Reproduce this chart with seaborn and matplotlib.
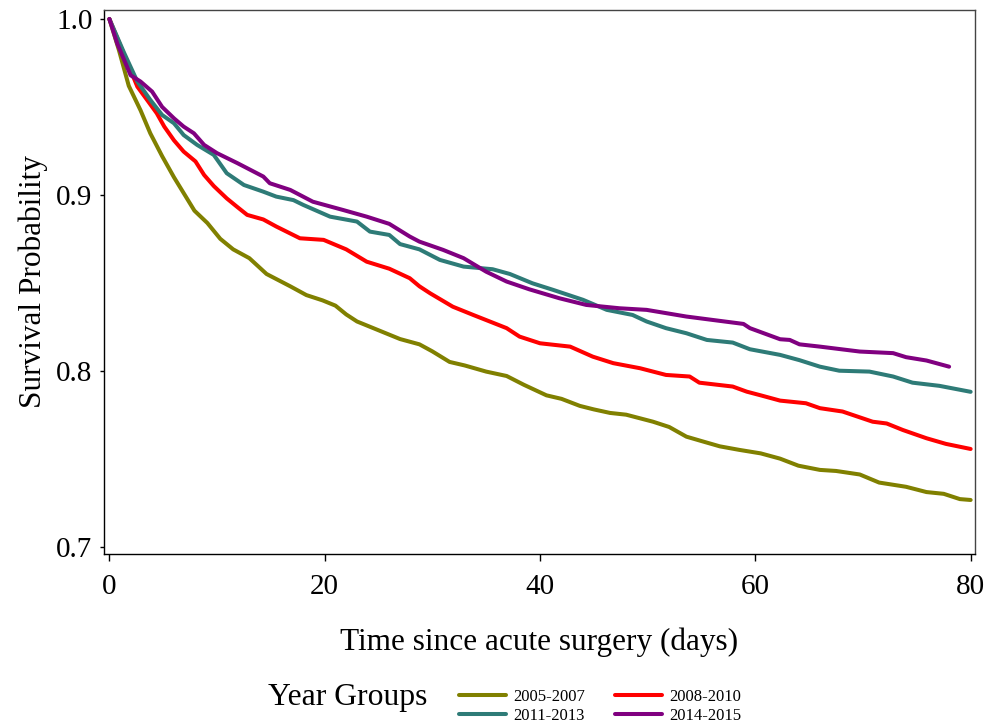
import matplotlib
matplotlib.use("Agg")
import matplotlib.pyplot as plt
import pandas as pd
import seaborn as sns
from matplotlib.lines import Line2D

# ---- data (Kaplan-Meier style survival curves) ----
GROUPS = ["2005-2007", "2008-2010", "2011-2013", "2014-2015"]
COLORS = {"2005-2007": "#808000", "2008-2010": "#ff0000",
          "2011-2013": "#2e7b77", "2014-2015": "#800080"}

days_0507 = [0, 0.9, 1.8, 2.9, 3.8, 4.9, 6.0, 6.9, 7.9, 9.1, 10.3, 11.5, 13.0, 14.6,
             16.8, 18.3, 19.8, 21.0, 22.0, 23.0, 25.0, 27.0, 28.8, 30.0, 31.6, 33.0,
             35.0, 36.9, 38.5, 40.6, 42.0, 43.7, 45.0, 46.5, 48.0, 50.5, 52.0, 53.6,
             55.0, 56.7, 58.5, 60.5, 62.3, 64.0, 66.0, 67.5, 69.7, 71.5, 74.0, 75.9,
             77.5, 79.0, 80.0]
surv_0507 = [1.000, 0.982, 0.962, 0.948, 0.935, 0.922, 0.910, 0.901, 0.891, 0.884,
             0.875, 0.869, 0.864, 0.855, 0.848, 0.843, 0.840, 0.837, 0.832, 0.828,
             0.823, 0.818, 0.815, 0.811, 0.805, 0.803, 0.7995, 0.797, 0.792, 0.786,
             0.784, 0.780, 0.778, 0.776, 0.775, 0.771, 0.768, 0.7625, 0.760, 0.757,
             0.755, 0.753, 0.750, 0.746, 0.7436, 0.743, 0.741, 0.7364, 0.734, 0.731,
             0.730, 0.727, 0.7265]

days_0810 = [0, 1.35, 2.6, 3.5, 4.4, 5.1, 6.0, 6.9, 8.0, 8.8, 9.7, 10.9, 11.9, 12.8,
             14.3, 15.5, 17.7, 19.9, 22.0, 23.9, 26.0, 27.9, 28.8, 29.8, 31.9, 33.8,
             36.9, 38.1, 40.0, 42.8, 44.9, 46.8, 49.3, 51.7, 53.9, 54.8, 57.9, 59.2,
             60.5, 62.3, 64.7, 66.0, 68.1, 70.9, 72.2, 73.7, 75.9, 77.7, 80.0]
surv_0810 = [1.000, 0.980, 0.9615, 0.954, 0.9464, 0.9388, 0.931, 0.9246, 0.919,
             0.9113, 0.905, 0.898, 0.893, 0.8886, 0.886, 0.882, 0.8753, 0.8744,
             0.869, 0.862, 0.858, 0.8526, 0.848, 0.844, 0.8364, 0.8317, 0.8242,
             0.8194, 0.8156, 0.8137, 0.808, 0.8043, 0.8014, 0.7976, 0.7967, 0.7932,
             0.791, 0.7881, 0.786, 0.783, 0.7815, 0.7787, 0.7768, 0.771, 0.770,
             0.7663, 0.7616, 0.7584, 0.7555]

days_1113 = [0, 1.35, 2.6, 3.8, 4.9, 6.0, 6.9, 8.15, 9.7, 10.9, 12.5, 14.3, 15.5,
             17.1, 18.0, 20.5, 23.0, 24.2, 26.0, 27.0, 28.8, 30.7, 32.9, 35.6, 37.2,
             39.3, 41.2, 44.0, 46.2, 48.6, 49.9, 51.7, 53.6, 55.5, 57.9, 59.5, 62.3,
             64.1, 66.0, 67.8, 70.6, 72.8, 74.6, 77.1, 80.0]
surv_1113 = [1.000, 0.981, 0.9644, 0.954, 0.9454, 0.9407, 0.934, 0.9284, 0.9227,
             0.9123, 0.9056, 0.9018, 0.899, 0.897, 0.8943, 0.8876, 0.8848, 0.8791,
             0.8772, 0.872, 0.869, 0.863, 0.8592, 0.8577, 0.855, 0.8497, 0.846,
             0.8403, 0.8346, 0.8317, 0.828, 0.8242, 0.8213, 0.8175, 0.816, 0.8122,
             0.809, 0.806, 0.8023, 0.800, 0.7995, 0.7967, 0.7932, 0.7914, 0.788]

days_1415 = [0, 0.73, 1.97, 2.9, 3.97, 4.9, 6.0, 6.9, 7.85, 8.8, 10.0, 11.9, 13.1,
             14.3, 14.9, 16.8, 18.9, 21.7, 23.9, 26.0, 27.9, 28.8, 31.0, 32.9, 35.0,
             36.9, 39.0, 41.8, 44.3, 47.4, 49.9, 53.6, 58.9, 59.5, 62.3, 63.2, 64.1,
             66.0, 69.7, 72.8, 74.0, 75.9, 78.0]
surv_1415 = [1.000, 0.986, 0.968, 0.9644, 0.9587, 0.950, 0.9435, 0.9388, 0.935,
             0.9284, 0.9237, 0.918, 0.9142, 0.9104, 0.9066, 0.9028, 0.8961, 0.8914,
             0.8876, 0.8835, 0.8763, 0.8734, 0.8687, 0.864, 0.8563, 0.8507, 0.8463,
             0.8412, 0.8374, 0.8355, 0.8346, 0.8308, 0.8266, 0.8242, 0.8179, 0.8175,
             0.815, 0.8137, 0.8109, 0.810, 0.8077, 0.8058, 0.8023]

series = {"2005-2007": (days_0507, surv_0507), "2008-2010": (days_0810, surv_0810),
          "2011-2013": (days_1113, surv_1113), "2014-2015": (days_1415, surv_1415)}
df = pd.concat([pd.DataFrame({"day": d, "surv": s, "group": g})
                for g, (d, s) in series.items()], ignore_index=True)

sns.set_style("ticks")
plt.rcParams["font.family"] = ["Liberation Serif", "DejaVu Serif"]
plt.rcParams.update({"text.color": "black", "axes.labelcolor": "black",
                     "xtick.color": "black", "ytick.color": "black"})

fig = plt.figure(figsize=(9.98, 7.25), dpi=100)
ax = fig.add_axes([0.1042, 0.2359, 0.8727, 0.7503])

sns.lineplot(data=df, x="day", y="surv", hue="group", hue_order=GROUPS,
             palette=COLORS, estimator=None, sort=False, lw=2.9,
             solid_joinstyle="round", legend=False, ax=ax)

ax.set_xlim(-0.5, 80.4)
ax.set_ylim(0.6958, 1.0051)
ax.set_xticks([0, 20, 40, 60, 80])
ax.set_yticks([0.7, 0.8, 0.9, 1.0])
ax.set_yticklabels(["0.7", "0.8", "0.9", "1.0"])
ax.tick_params(axis="x", labelsize=21, length=5, width=1, pad=9.5)
ax.tick_params(axis="y", labelsize=21, length=3.2, width=1, pad=5)
ax.set_xlabel("Time since acute surgery (days)", fontsize=22.5, labelpad=20)
ax.set_ylabel("Survival Probability", fontsize=22.5, labelpad=6)

for side in ["left", "bottom"]:
    ax.spines[side].set_color("black")
    ax.spines[side].set_linewidth(1.0)
for side in ["top", "right"]:
    ax.spines[side].set_visible(True)
    ax.spines[side].set_color("#444444")
    ax.spines[side].set_linewidth(1.0)

# legend: title on the left, entries in two columns
fig.text(268 / 998, 1 - 705 / 725, "Year Groups", fontsize=22.8, va="baseline")
order = ["2005-2007", "2011-2013", "2008-2010", "2014-2015"]
handles = [Line2D([], [], color=COLORS[g], lw=2.9) for g in order]
fig.legend(handles, order, loc="upper left", bbox_to_anchor=(459 / 998, 1 - 689 / 725),
           ncol=2, frameon=False, fontsize=12, borderaxespad=0, borderpad=0,
           labelspacing=0.15, handlelength=2.8, handletextpad=0.45, columnspacing=1.8)

fig.savefig("out.png", dpi=100)
